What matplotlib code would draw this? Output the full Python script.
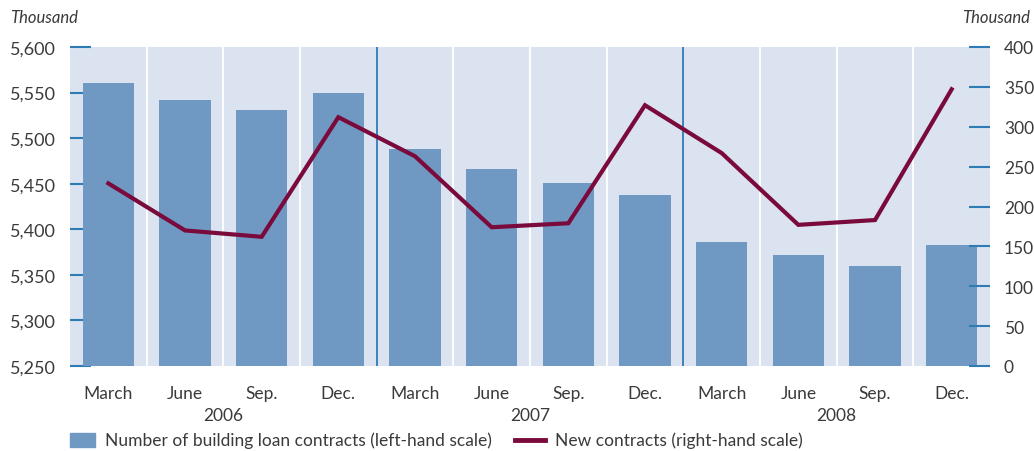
import numpy as np
import matplotlib.pyplot as plt

plt.rcParams['font.family'] = ['Lato', 'DejaVu Sans']

months = ['March', 'June', 'Sep.', 'Dec.'] * 3
years = ['2006', '2007', '2008']
contracts = [5560, 5542, 5531, 5550, 5488, 5466, 5451, 5438, 5386, 5372, 5360, 5383]
new_contracts = [229, 170, 162, 312, 263, 174, 179, 327, 267, 177, 183, 347]

bg = '#dae3ef'
bar_col = '#6f99c3'
line_col = '#7b0a3c'
tick_col = '#2f7bb6'
txt = '#3a3a3a'

fig = plt.figure(figsize=(10.34, 4.52), dpi=100)
ax = fig.add_axes([70/1034, (452-367)/452, 920/1034, 319/452])
ax2 = ax.twinx()

x = np.arange(len(contracts))
ax.set_facecolor(bg)
ax.bar(x, contracts, width=0.67, color=bar_col, zorder=2)
ax.set_xlim(-0.5, len(x) - 0.5)
ax.set_ylim(5250, 5600)

# separators between quarters (white) and between years (blue)
for b in np.arange(0.5, len(x) - 0.5, 1.0):
    if int(b + 0.5) % 4 == 0:
        ax.axvline(b, color=tick_col, lw=1.3, zorder=1)
    else:
        ax.axvline(b, color='white', lw=1.3, zorder=1)

ax2.plot(x, new_contracts, color=line_col, lw=3, zorder=3, solid_joinstyle='miter')
ax2.set_ylim(0, 400)

for a in (ax, ax2):
    for s in a.spines.values():
        s.set_visible(False)

ax.set_yticks(np.arange(5250, 5601, 50))
ax.set_yticklabels([f'{v:,}' for v in range(5250, 5601, 50)])
ax.tick_params(axis='y', direction='in', length=15, width=1.5, color=tick_col,
               labelsize=13, labelcolor=txt, pad=10)
ax2.set_yticks(np.arange(0, 401, 50))
ax2.tick_params(axis='y', direction='in', length=15, width=1.5, color=tick_col,
                labelsize=12.5, labelcolor=txt, pad=10)

ax.set_xticks(x)
ax.set_xticklabels(months)
ax.tick_params(axis='x', length=0, labelsize=12.5, labelcolor=txt, pad=14)
for i, y in enumerate(years):
    ax.text(4 * i + 1.5, -0.128, y, transform=ax.get_xaxis_transform(),
            ha='center', va='top', fontsize=12.5, color=txt)

fig.text(10/1034, 1 - 18/452, 'Thousand', style='italic', fontsize=12,
         color=txt, va='center', ha='left')
fig.text(1030/1034, 1 - 18/452, 'Thousand', style='italic', fontsize=12,
         color=txt, va='center', ha='right')

# legend
fig.patches.append(plt.Rectangle((70/1034, 1 - 448/452), 25/1034, 14/452,
                                 transform=fig.transFigure, color=bar_col))
fig.text(105/1034, 1 - 441/452, 'Number of building loan contracts (left-hand scale)',
         fontsize=12.5, color=txt, va='center')
fig.lines.append(plt.Line2D([515/1034, 545/1034], [1 - 441/452, 1 - 441/452],
                            transform=fig.transFigure, color=line_col, lw=3.5))
fig.text(555/1034, 1 - 441/452, 'New contracts (right-hand scale)',
         fontsize=12.5, color=txt, va='center')

fig.savefig('out.png', dpi=100)
